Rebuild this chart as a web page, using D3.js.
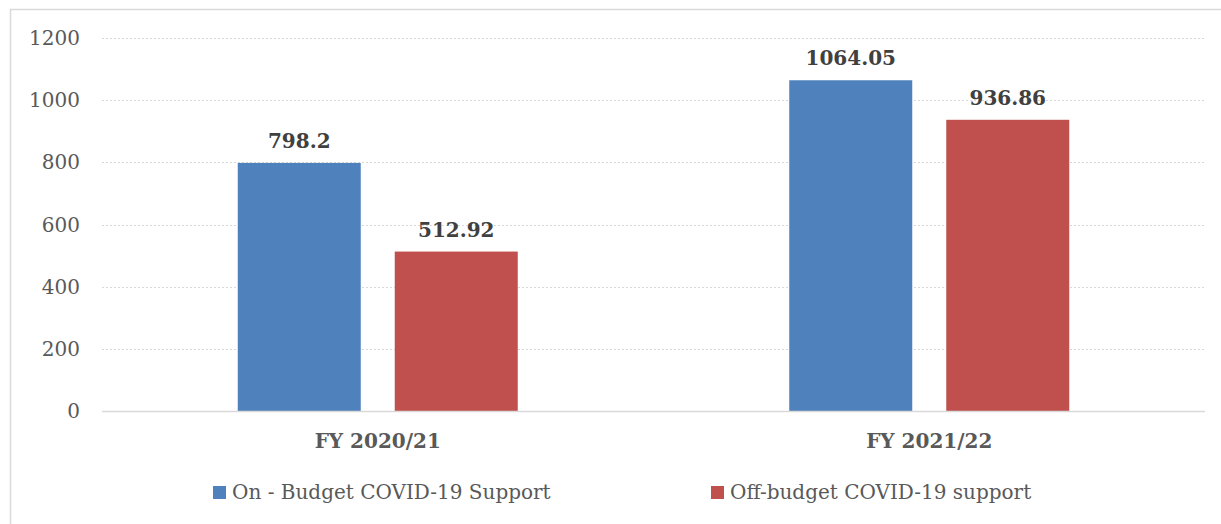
<!DOCTYPE html>
<html>
<head>
<meta charset="utf-8">
<script src="https://cdn.jsdelivr.net/npm/d3@7"></script>
<style>
  html, body { margin: 0; padding: 0; background: #fff; }
  svg { display: block; }
</style>
</head>
<body>
<div id="chart"></div>
<script>
// chart data
var years = ["FY 2020/21", "FY 2021/22"];
var seriesNames = ["On - Budget COVID-19 Support", "Off-budget COVID-19 support"];
var onBudget = [798.2, 1064.05];
var offBudget = [512.92, 936.86];
var valueLabels = [["798.2", "1064.05"], ["512.92", "936.86"]];
var yTicks = [0, 200, 400, 600, 800, 1000, 1200];
var colors = ["#4F81BD", "#C0504D"];

var width = 1221, height = 524;
var margin = {top: 38, right: 16, bottom: 113, left: 102};
var font = "'DejaVu Serif', serif";

var svg = d3.select("#chart").append("svg")
    .attr("width", width)
    .attr("height", height);

// outer frame
svg.append("rect")
    .attr("x", 10.5).attr("y", 9.5)
    .attr("width", width + 20).attr("height", height + 20)
    .style("fill", "none")
    .style("stroke", "#d9d9d9")
    .style("stroke-width", 1.5);

var x0 = d3.scaleBand()
    .domain(years)
    .range([margin.left, width - margin.right]);

var groupW = 280;
var x1 = d3.scaleBand()
    .domain([0, 1])
    .range([0, groupW])
    .paddingInner(34 / 157);

var y = d3.scaleLinear()
    .domain([0, 1200])
    .range([height - margin.bottom, margin.top]);

// grid
svg.selectAll(".grid")
    .data(yTicks.filter(function(d){ return d > 0; }))
    .enter()
    .append("line")
    .attr("x1", margin.left)
    .attr("x2", width - margin.right)
    .attr("y1", function(d){ return Math.round(y(d)) + 0.5; })
    .attr("y2", function(d){ return Math.round(y(d)) + 0.5; })
    .style("stroke", "#d9d9d9")
    .style("stroke-width", 1)
    .style("stroke-dasharray", "2,2");

// y tick labels
svg.selectAll(".ytick")
    .data(yTicks)
    .enter()
    .append("text")
    .attr("x", 80)
    .attr("y", function(d){ return y(d); })
    .attr("dy", "0.35em")
    .attr("text-anchor", "end")
    .style("font-family", font)
    .style("font-size", "20px")
    .style("fill", "#595959")
    .text(function(d){ return d; });

var series = [onBudget, offBudget];

series.forEach(function(vals, s) {
    var bw = x1.bandwidth();
    svg.selectAll(".bar" + s)
        .data(vals)
        .enter()
        .append("rect")
        .attr("x", function(d, i){ return x0(years[i]) + x0.bandwidth() / 2 - groupW / 2 + x1(s); })
        .attr("y", function(d){ return y(d); })
        .attr("width", bw)
        .attr("height", function(d){ return y(0) - y(d); })
        .style("fill", colors[s]);

    svg.selectAll(".lab" + s)
        .data(vals)
        .enter()
        .append("text")
        .attr("x", function(d, i){ return x0(years[i]) + x0.bandwidth() / 2 - groupW / 2 + x1(s) + bw / 2; })
        .attr("y", function(d){ return y(d) - 15; })
        .attr("text-anchor", "middle")
        .style("font-family", font)
        .style("font-weight", "bold")
        .style("font-size", "20px")
        .style("fill", "#404040")
        .text(function(d, i){ return valueLabels[s][i]; });
});

// zero axis line
svg.append("line")
    .attr("x1", margin.left)
    .attr("x2", width - margin.right)
    .attr("y1", y(0) + 0.5)
    .attr("y2", y(0) + 0.5)
    .style("stroke", "#d9d9d9")
    .style("stroke-width", 1.5);

// category labels
svg.selectAll(".xlab")
    .data(years)
    .enter()
    .append("text")
    .attr("x", function(d){ return x0(d) + x0.bandwidth() / 2; })
    .attr("y", 448)
    .attr("text-anchor", "middle")
    .style("font-family", font)
    .style("font-weight", "bold")
    .style("font-size", "20px")
    .style("fill", "#595959")
    .text(function(d){ return d; });

// legend
var legendX = [213, 711];
var leg = svg.selectAll(".legend")
    .data(seriesNames)
    .enter()
    .append("g")
    .attr("transform", function(d, i){ return "translate(" + legendX[i] + ",486)"; });

leg.append("rect")
    .attr("width", 13)
    .attr("height", 13)
    .style("fill", function(d, i){ return colors[i]; });

leg.append("text")
    .attr("x", 19)
    .attr("y", 13)
    .style("font-family", font)
    .style("font-size", "20px")
    .style("fill", "#595959")
    .text(function(d){ return d; });
</script>
</body>
</html>
